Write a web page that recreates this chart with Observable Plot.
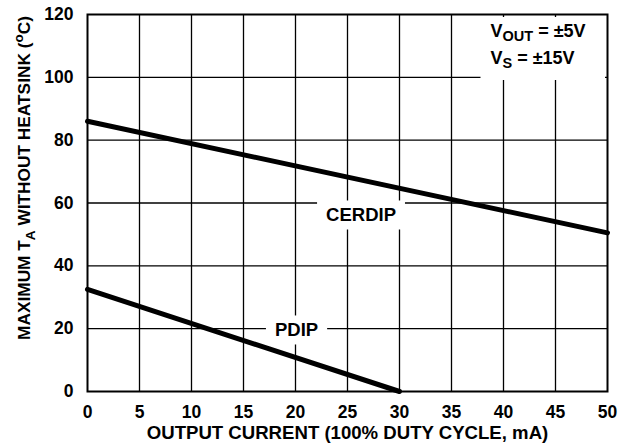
<!DOCTYPE html>
<html>
<head>
<meta charset="utf-8">
<script src="https://cdn.jsdelivr.net/npm/d3@7"></script>
<script src="https://cdn.jsdelivr.net/npm/@observablehq/plot@0.6"></script>
<style>
  html, body { margin: 0; padding: 0; background: #fff; }
  svg { display: block; }
</style>
</head>
<body>
<div id="chart"></div>
<script>
// ---- data ----
const xTicks = [0, 5, 10, 15, 20, 25, 30, 35, 40, 45, 50];
const yTicks = [0, 20, 40, 60, 80, 100, 120];
const xGrid = [5, 10, 15, 20, 25, 30, 35, 40, 45];
const yGrid = [20, 40, 60, 80, 100];

const cerdipCurrent = [0, 50];
const cerdipTemp = [86, 50.5];
const pdipCurrent = [0, 30];
const pdipTemp = [32.5, 0];

const seriesNames = ["CERDIP", "PDIP"];
const labelCurrent = [26.3, 20.1];
const labelTemp = [56, 19.4];

const conditionLines = ["V_{OUT} = ±5V", "V_{S} = ±15V"];
const xTitle = "OUTPUT CURRENT (100% DUTY CYCLE, mA)";
const yTitle = "MAXIMUM T_{A} WITHOUT HEATSINK (^{o}C)";

// ---- tables built from the arrays ----
const cerdip = cerdipCurrent.map((x, i) => ({x, y: cerdipTemp[i]}));
const pdip = pdipCurrent.map((x, i) => ({x, y: pdipTemp[i]}));
const labels = seriesNames.map((name, i) => ({name, x: labelCurrent[i], y: labelTemp[i]}));

const black = "#000";

const svg = Plot.plot({
  width: 627,
  height: 448,
  marginLeft: 87,
  marginRight: 20,
  marginTop: 14,
  marginBottom: 57,
  x: {domain: [0, 50]},
  y: {domain: [0, 120]},
  style: {
    fontFamily: "'Liberation Sans', Arial, Helvetica, sans-serif",
    fontSize: "17.5px",
    fontWeight: "bold",
    color: black,
    background: "#fff"
  },
  marks: [
    Plot.ruleX(xGrid, {stroke: black, strokeWidth: 1.3}),
    Plot.ruleY(yGrid, {stroke: black, strokeWidth: 1.3}),
    Plot.frame({stroke: black, strokeWidth: 2}),
    Plot.axisX(xTicks, {tickSize: 0, tickPadding: 14, label: null, fill: black, fontSize: 17.5}),
    Plot.axisY(yTicks, {tickSize: 0, tickPadding: 14, label: null, fill: black, fontSize: 17.5}),
    Plot.line(cerdip, {x: "x", y: "y", stroke: black, strokeWidth: 5}),
    Plot.line(pdip, {x: "x", y: "y", stroke: black, strokeWidth: 5}),
    Plot.text(labels, {x: "x", y: "y", text: "name", fill: black, fontSize: 18.5, ariaDescription: "boxed"}),
    ...conditionLines.map((line, i) =>
      Plot.text([line], {
        frameAnchor: "top-right",
        textAnchor: "start",
        lineAnchor: "bottom",
        dx: -117,
        dy: 22 + i * 27,
        fill: black,
        fontSize: 18,
        ariaDescription: "legend"
      })
    ),
    Plot.text([xTitle], {frameAnchor: "bottom", textAnchor: "middle", lineAnchor: "bottom", dy: 47.5, fill: black, fontSize: 18.6}),
    Plot.text([yTitle], {frameAnchor: "left", textAnchor: "middle", rotate: -90, dx: -63, dy: -25, fill: black, fontSize: 17.3, ariaDescription: "rich"})
  ]
});

document.getElementById("chart").appendChild(svg);

const NS = "http://www.w3.org/2000/svg";

// turn "_{...}" and "^{...}" into real subscript / superscript tspans
function richify(textEl, small, subShift, supShift) {
  const src = textEl.textContent;
  if (!/[_^]\{/.test(src)) return;
  const segs = [];
  const re = /([_^])\{([^}]*)\}/g;
  let last = 0, m;
  while ((m = re.exec(src))) {
    if (m.index > last) segs.push({t: src.slice(last, m.index), k: "n"});
    segs.push({t: m[2], k: m[1] === "_" ? "sub" : "sup"});
    last = re.lastIndex;
  }
  if (last < src.length) segs.push({t: src.slice(last), k: "n"});
  textEl.textContent = "";
  let cur = 0;
  for (const s of segs) {
    const target = s.k === "sub" ? subShift : s.k === "sup" ? supShift : 0;
    const ts = document.createElementNS(NS, "tspan");
    if (target !== cur) ts.setAttribute("dy", String(target - cur));
    if (s.k !== "n") ts.setAttribute("font-size", String(small));
    ts.textContent = s.t;
    textEl.appendChild(ts);
    cur = target;
  }
}

svg.querySelectorAll('g[aria-description="rich"] text').forEach(t => richify(t, 13.5, 4.5, -7));
svg.querySelectorAll('g[aria-description="legend"] text').forEach(t => richify(t, 14.5, 4.5, -7));

// white boxes behind the in-chart series labels
svg.querySelectorAll('g[aria-description="boxed"] text').forEach(t => {
  const b = t.getBBox();
  const r = document.createElementNS(NS, "rect");
  const px = 9, py = 4;
  r.setAttribute("x", b.x - px);
  r.setAttribute("y", b.y - py);
  r.setAttribute("width", b.width + 2 * px);
  r.setAttribute("height", b.height + 2 * py);
  r.setAttribute("fill", "#fff");
  const tr = t.getAttribute("transform");
  if (tr) r.setAttribute("transform", tr);
  t.parentNode.insertBefore(r, t);
});

// white box behind the conditions legend
{
  const groups = [...svg.querySelectorAll('g[aria-description="legend"]')];
  if (groups.length) {
    let x0 = Infinity, y1 = -Infinity;
    const svgRect = svg.getBoundingClientRect();
    groups.forEach(g => g.querySelectorAll("text").forEach(t => {
      const bb = t.getBoundingClientRect();
      x0 = Math.min(x0, bb.left - svgRect.left);
      y1 = Math.max(y1, bb.bottom - svgRect.top);
    }));
    const r = document.createElementNS(NS, "rect");
    const left = x0 - 10, top = 17;
    r.setAttribute("x", left);
    r.setAttribute("y", top);
    r.setAttribute("width", 605 - left);
    r.setAttribute("height", Math.max(63, (y1 + 8) - top));
    r.setAttribute("fill", "#fff");
    groups[0].parentNode.insertBefore(r, groups[0]);
  }
}
</script>
</body>
</html>
